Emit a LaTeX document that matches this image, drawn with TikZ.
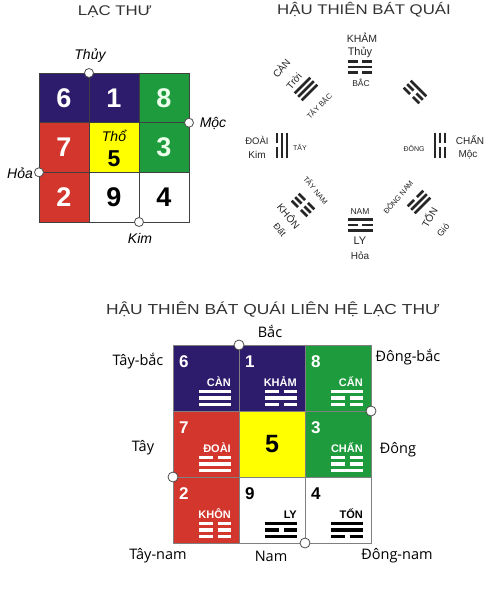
\documentclass[tikz,border=0pt]{standalone}
\usepackage{fontspec}
\setmainfont{Liberation Sans}
\newfontfamily\titlefont[FakeStretch=1.2]{Liberation Sans}
\newfontfamily\labfont{Open Sans}
\definecolor{cpur}{HTML}{2D1B6B}
\definecolor{cred}{HTML}{D3362C}
\definecolor{cgrn}{HTML}{1E9B3C}
\definecolor{cyel}{HTML}{FFFF00}
\newcommand{\tline}[4]{\ifnum#2=1 \draw (-#3,#1) -- (#3,#1);\else \draw (-#3,#1) -- (-#4,#1); \draw (#4,#1) -- (#3,#1);\fi}
\newcommand{\trigram}[6]{\tline{-#6}{#1}{#4}{#5}\tline{0}{#2}{#4}{#5}\tline{#6}{#3}{#4}{#5}}
\tikzset{
  lcell/.style={minimum width=50pt, minimum height=49.7pt, inner sep=0pt, draw=black!75, line width=0.9pt, font=\fontsize{27}{27}\selectfont\bfseries, text=white},
  bcell/.style={minimum size=66pt, inner sep=0pt, draw=black!50, line width=0.6pt},
  circ/.style={circle, draw=black!70, fill=white, minimum size=9pt, inner sep=0pt, line width=0.8pt},
  lab/.style={font=\fontsize{14}{14}\selectfont\itshape, inner sep=0pt},
  ttl/.style={font=\titlefont\fontsize{14}{14}\selectfont, text=black!80, inner sep=0pt},
  blab/.style={font=\labfont\fontsize{14.5}{14.5}\selectfont, inner sep=0pt},
  bdigit/.style={anchor=base west, font=\fontsize{17}{17}\selectfont\bfseries, inner sep=0pt},
  bname/.style={anchor=base east, font=\fontsize{11}{11}\selectfont\bfseries, inner sep=0pt},
  tg/.style={line width=2.6pt, color=black!85},
  tt/.style={inner sep=0pt, text=black!85},
}
\newcommand{\bcont}[9]{%
  \node[bdigit, text=#5] (#9d) at (#1+6,#2+22) {#3};
  \node[bname, text=#5] (#9n) at (#1+58,#2+41) {#4};
  \begin{scope}[shift={(#1+42,#2+53)}, color=#5, line width=3.2pt]
    \trigram{#6}{#7}{#8}{16}{2.5}{6.5}
  \end{scope}}
\begin{document}
\begin{tikzpicture}[x=1pt,y=-1pt]
\useasboundingbox (0,0) rectangle (500,595);
\fill[white] (0,0) rectangle (500,595);

% ---------- LAC THU ----------
\node[ttl] (t1) at (115,12) {LẠC THƯ};
\node[lcell, fill=cpur] (l6) at (64,97.8) {6};
\node[lcell, fill=cpur] (l1) at (114,97.8) {1};
\node[lcell, fill=cgrn, text=green!8] (l8) at (164,97.8) {8};
\node[lcell, fill=cred] (l7) at (64,147.5) {7};
\node[lcell, fill=cyel] (l5) at (114,147.5) {};
\node[lcell, fill=cgrn, text=green!8] (l3) at (164,147.5) {3};
\node[lcell, fill=cred] (l2) at (64,197.2) {2};
\node[lcell, fill=white, text=black] (l9) at (114,197.2) {9};
\node[lcell, fill=white, text=black] (l4) at (164,197.2) {4};
\node[font=\fontsize{14}{14}\selectfont\itshape, inner sep=0pt] (tho) at (114,136) {Thổ};
\node[font=\fontsize{23}{23}\selectfont\bfseries, inner sep=0pt] (five) at (114,158.5) {5};
\node[circ] (cthuy) at (89,73) {};
\node[circ] (cmoc) at (189,122.7) {};
\node[circ] (choa) at (39,172.3) {};
\node[circ] (ckim) at (139,222) {};
\node[lab] (thuy) at (90,56) {Thủy};
\node[lab] (moc) at (213,123) {Mộc};
\node[lab] (hoa) at (20,173) {Hỏa};
\node[lab] (kim) at (140,238) {Kim};

% ---------- HAU THIEN BAT QUAI ----------
\node[ttl] (t2) at (364,10) {HẬU THIÊN BÁT QUÁI};
% North - Kham
\node[tt, font=\fontsize{10.5}{10.5}\selectfont] (kham) at (362,38) {KHẢM};
\node[tt, font=\fontsize{11}{11}\selectfont] (khamt) at (360,52) {Thủy};
\begin{scope}[shift={(360,67)}, tg] \trigram{0}{1}{0}{12}{2}{5.5} \end{scope}
\node[tt, font=\fontsize{8.5}{8.5}\selectfont] (bac) at (361,83) {BẮC};
% NW - Can
\node[tt, font=\fontsize{10}{10}\selectfont, rotate=50] (can) at (281,68) {CÀN};
\node[tt, font=\fontsize{10}{10}\selectfont, rotate=50] (troi) at (294,81) {Trời};
\begin{scope}[shift={(306,89)}, rotate=45, tg] \trigram{1}{1}{1}{11}{2}{5} \end{scope}
\node[tt, font=\fontsize{7.5}{7.5}\selectfont, rotate=45] (taybac) at (319,106) {TÂY BẮC};
% NE - Can (mountain)
\begin{scope}[shift={(415,92)}, rotate=-45, tg] \trigram{1}{0}{0}{11}{2}{5} \end{scope}
% West - Doai
\node[tt, font=\fontsize{9.5}{9.5}\selectfont] (doai) at (257,140) {ĐOÀI};
\node[tt, font=\fontsize{10}{10}\selectfont] (kimw) at (257,155) {Kim};
\begin{scope}[shift={(282,145)}, rotate=90, tg] \trigram{0}{1}{1}{12.5}{2}{5} \end{scope}
\node[tt, font=\fontsize{7}{7}\selectfont] (tay) at (300,147) {TÂY};
% East - Chan
\node[tt, font=\fontsize{7}{7}\selectfont] (dong) at (414,148) {ĐÔNG};
\begin{scope}[shift={(440,145)}, rotate=-90, tg] \trigram{0}{0}{1}{12.5}{2}{5} \end{scope}
\node[tt, font=\fontsize{10}{10}\selectfont] (chan) at (470,140) {CHẤN};
\node[tt, font=\fontsize{10}{10}\selectfont] (moce) at (468,155) {Mộc};
% SW - Khon
\node[tt, font=\fontsize{7.5}{7.5}\selectfont, rotate=-50] (taynam) at (316,190) {TÂY NAM};
\begin{scope}[shift={(303,205)}, rotate=135, tg] \trigram{0}{0}{0}{11}{2}{5} \end{scope}
\node[tt, font=\fontsize{10}{10}\selectfont, rotate=-50] (khon) at (289,216) {KHÔN};
\node[tt, font=\fontsize{9}{9}\selectfont, rotate=-50] (dat) at (280,230) {Đất};
% South - Ly
\node[tt, font=\fontsize{8.5}{8.5}\selectfont] (nam) at (360,212) {NAM};
\begin{scope}[shift={(360,225)}, rotate=180, tg] \trigram{1}{0}{1}{12.5}{2}{5.5} \end{scope}
\node[tt, font=\fontsize{11}{11}\selectfont] (ly) at (360,241) {LY};
\node[tt, font=\fontsize{10}{10}\selectfont] (hoas) at (360,256) {Hỏa};
% SE - Ton
\node[tt, font=\fontsize{7.5}{7.5}\selectfont, rotate=50] (dongnam) at (398,197) {ĐÔNG NAM};
\begin{scope}[shift={(419,202)}, rotate=225, tg] \trigram{1}{1}{0}{11}{2}{5} \end{scope}
\node[tt, font=\fontsize{10}{10}\selectfont, rotate=60] (ton) at (429,217) {TỐN};
\node[tt, font=\fontsize{9}{9}\selectfont, rotate=50] (gio) at (443,230) {Gió};

% ---------- LIEN HE ----------
\node[ttl, font=\titlefont\fontsize{14.5}{14.5}\selectfont] (t3) at (273,310) {HẬU THIÊN BÁT QUÁI LIÊN HỆ LẠC THƯ};
\node[bcell, fill=cpur] (b6) at (206,378) {};
\node[bcell, fill=cpur] (b1) at (272,378) {};
\node[bcell, fill=cgrn] (b8) at (338,378) {};
\node[bcell, fill=cred] (b7) at (206,444) {};
\node[bcell, fill=cyel, font=\fontsize{25}{25}\selectfont\bfseries] (b5) at (272,444) {5};
\node[bcell, fill=cgrn] (b3) at (338,444) {};
\node[bcell, fill=cred] (b2) at (206,510) {};
\node[bcell, fill=white] (b9) at (272,510) {};
\node[bcell, fill=white] (b4) at (338,510) {};
\bcont{173}{345}{6}{CÀN}{white}{1}{1}{1}{q6}
\bcont{239}{345}{1}{KHẢM}{white}{0}{1}{0}{q1}
\bcont{305}{345}{8}{CẤN}{white}{1}{0}{0}{q8}
\bcont{173}{411}{7}{ĐOÀI}{white}{0}{1}{1}{q7}
\bcont{305}{411}{3}{CHẤN}{white}{0}{0}{1}{q3}
\bcont{173}{477}{2}{KHÔN}{white}{0}{0}{0}{q2}
\bcont{239}{477}{9}{LY}{black}{1}{0}{1}{q9}
\bcont{305}{477}{4}{TỐN}{black}{1}{1}{0}{q4}
\node[circ, minimum size=10pt] (cbac) at (239,345) {};
\node[circ, minimum size=10pt] (cdong) at (371,411) {};
\node[circ, minimum size=10pt] (ctay) at (173,477) {};
\node[circ, minimum size=10pt] (cnam) at (305,543) {};
\node[blab] (lbac) at (270,331) {Bắc};
\node[blab] (ltaybac) at (138,361) {Tây-bắc};
\node[blab] (ldongbac) at (408,357) {Đông-bắc};
\node[blab] (ltay) at (143,448) {Tây};
\node[blab] (ldong) at (398,450) {Đông};
\node[blab] (ltaynam) at (158,556) {Tây-nam};
\node[blab] (lnam) at (271,556) {Nam};
\node[blab] (ldongnam) at (397,556) {Đông-nam};
\end{tikzpicture}
\end{document}
